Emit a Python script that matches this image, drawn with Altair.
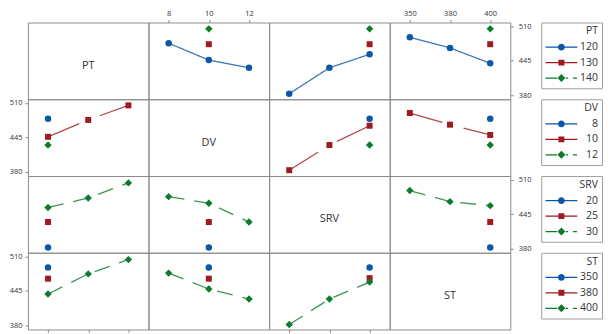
import altair as alt
import pandas as pd

# ---- factors and their levels -------------------------------------------
FACTORS = ["PT", "DV", "SRV", "ST"]
PT_LEVELS = ["120", "130", "140"]
DV_LEVELS = ["8", "10", "12"]
SRV_LEVELS = ["20", "25", "30"]
ST_LEVELS = ["350", "380", "400"]
LEVELS = {"PT": PT_LEVELS, "DV": DV_LEVELS, "SRV": SRV_LEVELS, "ST": ST_LEVELS}

# ---- panel means: (trace level, x level, mean) ----------------------------
PT_BY_DV = [("120", "8", 478), ("120", "10", 446), ("120", "12", 431.5), ("130", "10", 476), ("140", "10", 505)]
PT_BY_SRV = [("120", "20", 382.5), ("120", "25", 431.5), ("120", "30", 457), ("130", "30", 476), ("140", "30", 505)]
PT_BY_ST = [("120", "350", 489), ("120", "380", 469), ("120", "400", 440), ("130", "400", 476), ("140", "400", 505)]
DV_BY_PT = [("8", "120", 480), ("10", "120", 446), ("10", "130", 478), ("10", "140", 505.5), ("12", "120", 430.5)]
DV_BY_SRV = [("8", "30", 480), ("10", "20", 383), ("10", "25", 430.5), ("10", "30", 467), ("12", "30", 430.5)]
DV_BY_ST = [("8", "400", 480), ("10", "350", 491), ("10", "380", 469), ("10", "400", 449.5), ("12", "400", 430.5)]
SRV_BY_PT = [("20", "120", 382), ("25", "120", 430), ("30", "120", 457.5), ("30", "130", 475.5), ("30", "140", 504)]
SRV_BY_DV = [("20", "10", 382), ("25", "10", 430), ("30", "8", 478), ("30", "10", 465.5), ("30", "12", 430)]
SRV_BY_ST = [("20", "400", 382), ("25", "400", 430), ("30", "350", 489.5), ("30", "380", 468.5), ("30", "400", 461)]
ST_BY_PT = [("350", "120", 489), ("380", "120", 468), ("400", "120", 439), ("400", "130", 477), ("400", "140", 504)]
ST_BY_DV = [("350", "10", 489), ("380", "10", 468), ("400", "8", 478.5), ("400", "10", 448.5), ("400", "12", 429.5)]
ST_BY_SRV = [("350", "30", 489), ("380", "30", 469), ("400", "20", 381.5), ("400", "25", 429.5), ("400", "30", 461.5)]

PANELS = {
    ("PT", "DV"): PT_BY_DV, ("PT", "SRV"): PT_BY_SRV, ("PT", "ST"): PT_BY_ST,
    ("DV", "PT"): DV_BY_PT, ("DV", "SRV"): DV_BY_SRV, ("DV", "ST"): DV_BY_ST,
    ("SRV", "PT"): SRV_BY_PT, ("SRV", "DV"): SRV_BY_DV, ("SRV", "ST"): SRV_BY_ST,
    ("ST", "PT"): ST_BY_PT, ("ST", "DV"): ST_BY_DV, ("ST", "SRV"): ST_BY_SRV,
}
Y_TICKS = [380, 445, 510]

# ---- style ---------------------------------------------------------------
W, H = 121, 77
YDOM = [372, 517]
COLORS = ["#0B57A8", "#9E1B1F", "#0B7B2C"]
DASHES = [[1, 0], [34, 22], [16, 10]]
SHAPES = ["circle", "square", "diamond"]
SIZES = [42, 36, 55]
FONT = "Open Sans"
GREY = "#8c8c8c"
LEG_PATHS = [
    "M-4,-0.17H4V0.17H-4Z M0.85,0A0.85,0.85,0,1,1,-0.85,0A0.85,0.85,0,1,1,0.85,0Z",
    "M-4,-0.17H4V0.17H-4Z M-0.75,-0.75H0.75V0.75H-0.75Z",
    "M-4,-0.17H-1.1V0.17H-4Z M0,-1L1,0L0,1L-1,0Z M1.1,-0.17H1.7V0.17H1.1Z M2.9,-0.17H3.9V0.17H2.9Z",
]
LEGEND_LEFT = 515  # legend box offset from the grid's left edge


def diag_panel(i):
    tf = FACTORS[i]
    text = alt.Chart(pd.DataFrame({"name": [tf]})).mark_text(
        font=FONT, fontSize=11, color="#333333", baseline="middle", align="center"
    ).encode(text="name:N", x=alt.value(W / 2), y=alt.value(H / 2 + 5))
    leg = alt.Legend(title=tf, orient="none", legendX=LEGEND_LEFT - W * i, legendY=0)
    legend_layer = alt.Chart(pd.DataFrame({"lvl": LEVELS[tf]})).transform_filter("false").mark_point(
        filled=True, opacity=1
    ).encode(
        color=alt.Color("lvl:N", scale=alt.Scale(domain=LEVELS[tf], range=COLORS), legend=leg),
        shape=alt.Shape("lvl:N", scale=alt.Scale(domain=LEVELS[tf], range=LEG_PATHS), legend=leg),
    )
    return alt.layer(text, legend_layer).properties(width=W, height=H)


def panel(i, j):
    if i == j:
        return diag_panel(i)
    tf, xf = FACTORS[i], FACTORS[j]
    df = pd.DataFrame(PANELS[(tf, xf)], columns=["lvl", "x", "value"])
    df["xi"] = df["x"].map(LEVELS[xf].index)

    if i == 0 and j in (1, 3):
        x_axis = alt.Axis(orient="top", values=LEVELS[xf], title=None, labelAngle=0, labelPadding=2)
    elif i == 3 and j in (0, 2):
        x_axis = alt.Axis(orient="bottom", values=LEVELS[xf], title=None, labelAngle=0)
    else:
        x_axis = None
    if j == 3 and i in (0, 2):
        y_axis = alt.Axis(orient="right", values=Y_TICKS, title=None, labelPadding=5)
    elif j == 0 and i in (1, 3):
        y_axis = alt.Axis(orient="left", values=Y_TICKS, title=None)
    else:
        y_axis = None

    base = alt.Chart(df).encode(
        x=alt.X("x:O", scale=alt.Scale(type="point", domain=LEVELS[xf], padding=0.5), axis=x_axis),
        y=alt.Y("value:Q", scale=alt.Scale(domain=YDOM, nice=False, zero=False), axis=y_axis),
        order=alt.Order("xi:Q"),
    )
    layers = []
    for k, lv in enumerate(LEVELS[tf]):
        layers.append(
            base.transform_filter(alt.datum.lvl == lv).mark_line(
                color=COLORS[k], strokeDash=DASHES[k], strokeWidth=1.3, opacity=0.8
            )
        )
    for k, lv in enumerate(LEVELS[tf]):
        layers.append(
            base.transform_filter(alt.datum.lvl == lv).mark_point(
                shape=SHAPES[k], filled=True, size=SIZES[k], color=COLORS[k], opacity=1
            )
        )
    return alt.layer(*layers).properties(width=W, height=H)


panels = [panel(i, j) for i in range(4) for j in range(4)]

chart = (
    alt.concat(*panels, columns=4, spacing=0, bounds="flush")
    .resolve_scale(color="independent", shape="independent")
    .resolve_legend(color="independent", shape="independent")
    .properties(padding=0)
    .configure_view(stroke=GREY, strokeWidth=1)
    .configure_axis(
        labelFont=FONT, labelFontSize=7.5, labelColor="#333333", tickColor=GREY,
        tickSize=3, labelPadding=3, domain=False, grid=False,
    )
    .configure_legend(
        strokeColor="#a0a0a0", cornerRadius=0, padding=4,
        titleFont=FONT, titleFontSize=10.5, titleFontWeight="normal", titleColor="#333333",
        titleAnchor="end", titlePadding=5,
        labelFont=FONT, labelFontSize=10.5, labelColor="#333333",
        labelAlign="right", labelOffset=31.5,
        symbolSize=64, symbolStrokeWidth=0, symbolOffset=11, rowPadding=4.5,
    )
)

chart.save("out.html", embed_options={"renderer": "svg", "actions": False})
